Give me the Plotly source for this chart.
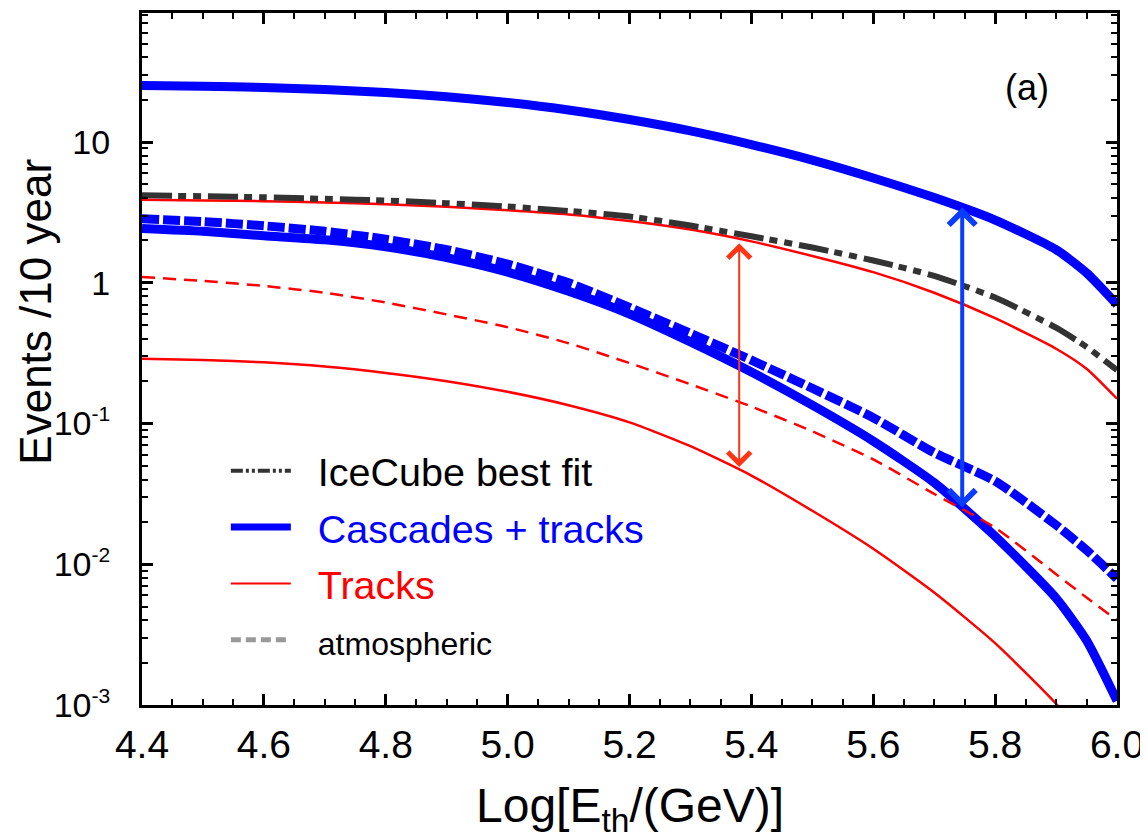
import numpy as np
import plotly.graph_objects as go

# ---------------- data ----------------
log_E = [4.4, 4.5, 4.6, 4.7, 4.8, 4.9, 5.0, 5.1, 5.2, 5.3, 5.4, 5.5, 5.6, 5.7, 5.8, 5.9, 5.95, 6.0]

casc_tracks_top = [25.2, 24.9, 24.4, 23.6, 22.5, 21.0, 19.1, 16.9, 14.45, 12.0, 9.6, 7.45, 5.56, 4.03, 2.79, 1.72, 1.175, 0.70]
icecube_best_fit = [4.18, 4.12, 4.05, 3.95, 3.84, 3.68, 3.48, 3.24, 2.96, 2.55, 2.14, 1.78, 1.44, 1.12, 0.785, 0.48, 0.35, 0.24]
tracks_top = [3.89, 3.85, 3.80, 3.72, 3.61, 3.47, 3.28, 3.06, 2.75, 2.39, 1.97, 1.55, 1.19, 0.85, 0.56, 0.34, 0.245, 0.15]
casc_tracks_low = [2.43, 2.32, 2.16, 2.02, 1.80, 1.51, 1.19, 0.87, 0.60, 0.38, 0.232, 0.135, 0.075, 0.038, 0.0158, 0.00575, 0.00288, 0.00107]
casc_tracks_atm = [2.85, 2.72, 2.54, 2.32, 2.04, 1.72, 1.36, 1.0, 0.668, 0.437, 0.282, 0.178, 0.11, 0.062, 0.039, 0.019, 0.0126, 0.0079]
tracks_atm = [1.10, 1.03, 0.95, 0.85, 0.724, 0.596, 0.484, 0.372, 0.269, 0.19, 0.132, 0.088, 0.0556, 0.0316, 0.0182, 0.0085, 0.0058, 0.0040]
tracks_low = [0.289, 0.283, 0.272, 0.254, 0.229, 0.20, 0.168, 0.135, 0.102, 0.069, 0.0427, 0.024, 0.0129, 0.0063, 0.00275, 0.00102, 0.00056, 0.00032]

x_tick_vals = [4.4, 4.6, 4.8, 5.0, 5.2, 5.4, 5.6, 5.8, 6.0]
x_tick_text = ["4.4", "4.6", "4.8", "5.0", "5.2", "5.4", "5.6", "5.8", "6.0"]
y_tick_vals = [0.001, 0.01, 0.1, 1, 10]
y_tick_exponents = ["-3", "-2", "-1", None, None]
y_tick_plain = [None, None, None, "1", "10"]

legend_labels = ["IceCube best fit", "Cascades + tracks", "Tracks", "atmospheric"]

x_title = "Log[E<sub>th</sub>/(GeV)]"
y_title = "Events /10 year"

red_arrow_x = 5.38
red_arrow_y = [0.048, 1.91]
blue_arrow_x = 5.746
blue_arrow_y = [0.0247, 3.44]

panel_label = "(a)"
panel_label_pos = [5.853, 24.4]

# ---------------- styling ----------------
FONT = "Liberation Sans, Arial, Helvetica, sans-serif"
BLUE = "#0000ff"
RED = "#ff0000"
DARK = "#333333"

y_tick_text = [p if p is not None else f"10<sup><span style='font-size:21px'>{e}</span></sup>"
               for e, p in zip(y_tick_exponents, y_tick_plain)]

fig = go.Figure()

def add_line(y, color, width, dash="solid"):
    fig.add_trace(go.Scatter(
        x=log_E, y=y, mode="lines", showlegend=False, hoverinfo="skip",
        line=dict(color=color, width=width, dash=dash, shape="spline", smoothing=0.6),
    ))

add_line(casc_tracks_top, BLUE, 9)
add_line(casc_tracks_low, BLUE, 9)
add_line(casc_tracks_atm, BLUE, 9, "17px,4px")
add_line(tracks_top, RED, 2.5)
add_line(tracks_atm, RED, 2.5, "13px,8px")
add_line(tracks_low, RED, 2.5)
add_line(icecube_best_fit, DARK, 6, "30px,6px,8px,7px,8px,7px")

# legend entries
legend_styles = [
    dict(color=DARK, width=4, dash="12px,3px,3px,3px,3px,3px"),
    dict(color=BLUE, width=7, dash="solid"),
    dict(color=RED, width=2, dash="solid"),
    dict(color="#999999", width=5, dash="10px,5px"),
]
legend_text = [
    f"&nbsp;&nbsp;<span style='color:black'>{legend_labels[0]}</span>",
    f"&nbsp;&nbsp;<span style='color:{BLUE}'>{legend_labels[1]}</span>",
    f"&nbsp;&nbsp;<span style='color:{RED}'>{legend_labels[2]}</span>",
    f"&nbsp;&nbsp;<span style='color:black;font-size:32px'>{legend_labels[3]}</span>",
]
for i, (txt, st) in enumerate(zip(legend_text, legend_styles)):
    fig.add_trace(go.Scatter(x=[None], y=[None], mode="lines", name=txt, line=st,
                             showlegend=True, legendgroup=f"g{i}"))

# double arrows
for ax_x, ys, col, w, sz in [(red_arrow_x, red_arrow_y, "#ff3414", 2, 2.2),
                            (blue_arrow_x, blue_arrow_y, "#0a3cff", 4, 1.3)]:
    fig.add_annotation(
        x=ax_x, y=np.log10(ys[1]), ax=ax_x, ay=np.log10(ys[0]),
        xref="x", yref="y", axref="x", ayref="y", text="",
        showarrow=True, arrowhead=4, startarrowhead=4, arrowside="end+start",
        arrowwidth=w, arrowcolor=col, arrowsize=sz, startarrowsize=sz,
        standoff=0, startstandoff=0,
    )

fig.add_annotation(x=panel_label_pos[0], y=np.log10(panel_label_pos[1]), xref="x", yref="y",
                   text=panel_label, showarrow=False, font=dict(family=FONT, size=36, color="black"))

# axis titles
fig.add_annotation(x=0.5, y=-0.15, xref="paper", yref="paper", text=x_title, showarrow=False,
                   xanchor="center", yanchor="middle", font=dict(family=FONT, size=48, color="black"))
fig.add_annotation(x=-0.109, y=0.568, xref="paper", yref="paper", text=y_title, showarrow=False,
                   textangle=-90, xanchor="center", yanchor="middle",
                   font=dict(family=FONT, size=44, color="black"))

axis_common = dict(
    showline=True, linecolor="black", linewidth=3, mirror="allticks",
    ticks="inside", ticklen=11, tickwidth=2.5, tickcolor="black",
    showgrid=False, zeroline=False,
)

fig.update_xaxes(
    **axis_common, range=[4.4, 6.0], tickvals=x_tick_vals, ticktext=x_tick_text,
    tickfont=dict(family=FONT, size=39, color="black"), ticklabelstandoff=3,
    minor=dict(ticks="inside", ticklen=6, tickwidth=2, tickcolor="black", dtick=0.05, showgrid=False),
)
fig.update_yaxes(
    **axis_common, type="log", range=[-3, 1.917], tickvals=y_tick_vals, ticktext=y_tick_text,
    tickfont=dict(family=FONT, size=34, color="black"), ticklabelstandoff=22,
    minor=dict(ticks="inside", ticklen=6, tickwidth=2, tickcolor="black", dtick="D1", showgrid=False),
)

# the page body adds an 8px offset, so the figure is 8px smaller and margins shifted
fig.update_layout(
    width=1140, height=830,
    margin=dict(l=134, r=31, t=2, b=133),
    paper_bgcolor="white", plot_bgcolor="white",
    font=dict(family=FONT, color="black"),
    legend=dict(x=0.086, y=0.385, xanchor="left", yanchor="top",
                bgcolor="rgba(0,0,0,0)", borderwidth=0, traceorder="grouped", tracegroupgap=2,
                font=dict(family=FONT, size=39.5, color="black"), itemwidth=60),
)

fig.write_html("out.html")
